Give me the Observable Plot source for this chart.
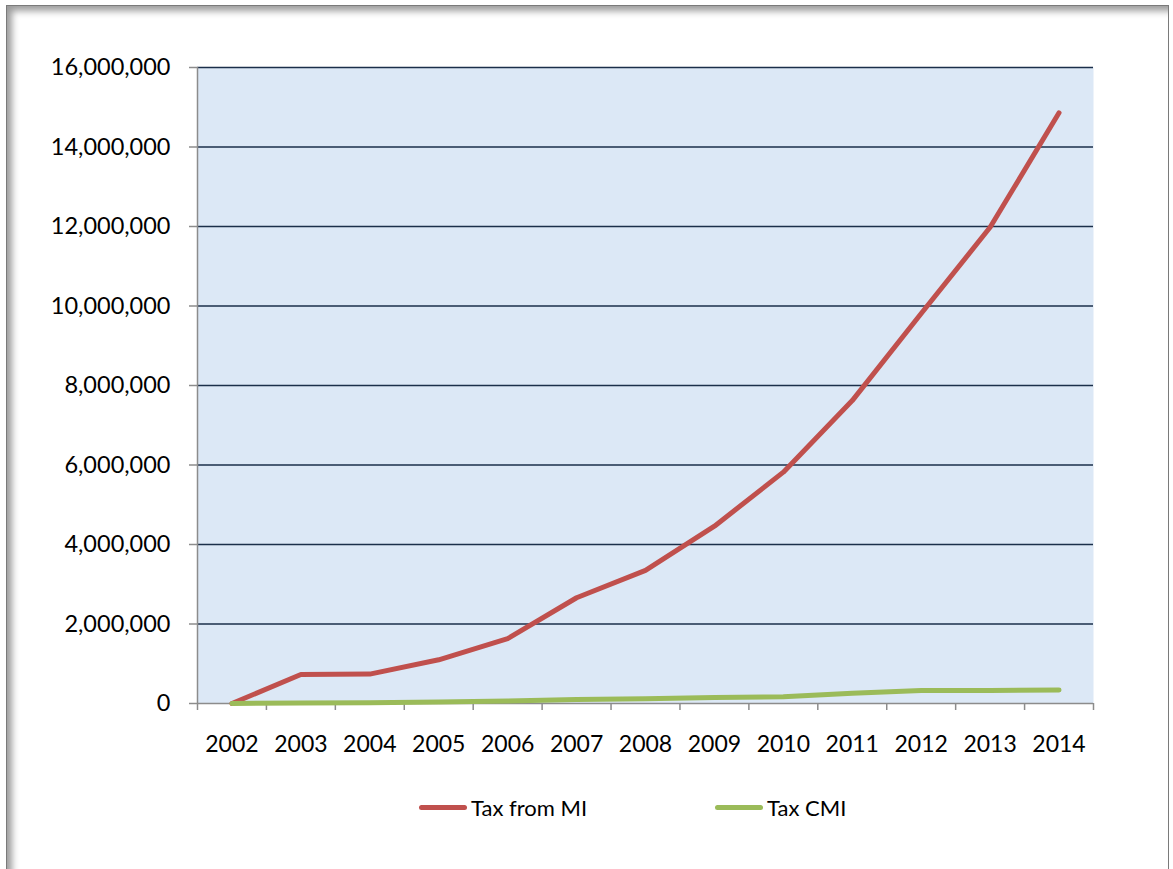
<!DOCTYPE html>
<html><head><meta charset="utf-8">
<script src="https://cdn.jsdelivr.net/npm/d3@7"></script>
<script src="https://cdn.jsdelivr.net/npm/@observablehq/plot@0.6"></script>
<style>
html,body{margin:0;padding:0;background:#fff;width:1173px;height:869px;overflow:hidden;font-family:Lato,"Open Sans",sans-serif;}
#frame{position:absolute;left:6px;top:5px;width:1163px;height:920px;border:1px solid #7a7a7a;box-shadow:inset 8px 8px 7px -3px #9c9c9c;box-sizing:border-box;}
#chart{position:absolute;left:0;top:0;}
.legend{position:absolute;top:792px;height:30px;display:flex;align-items:center;font-size:22px;color:#000;}
.sw{width:48px;height:5px;border-radius:3px;margin-right:4px;}
</style></head>
<body>
<div id="frame"></div>
<div id="chart"></div>
<div class="legend" style="left:419px"><div class="sw" style="background:#c0504d"></div><span>Tax from MI</span></div>
<div class="legend" style="left:715px"><div class="sw" style="background:#9bbb59"></div><span>Tax CMI</span></div>
<script>
const years = [2002,2003,2004,2005,2006,2007,2008,2009,2010,2011,2012,2013,2014];
const taxFromMI = [0,730000,740000,1100000,1630000,2660000,3350000,4460000,5820000,7620000,9810000,11980000,14860000];
const taxCMI = [0,10000,20000,40000,60000,100000,120000,150000,170000,260000,330000,330000,340000];
const yTicks = [0,2000000,4000000,6000000,8000000,10000000,12000000,14000000,16000000];
const seriesNames = ["Tax from MI","Tax CMI"];
const seriesColors = ["#c0504d","#9bbb59"];

const rows = [];
years.forEach((y,i)=>{
  rows.push({year:y, value:taxFromMI[i], series:seriesNames[0]});
  rows.push({year:y, value:taxCMI[i], series:seriesNames[1]});
});
const boundaries = years.map(y=>y-0.5).concat([years[years.length-1]+0.5]);

const chart = Plot.plot({
  width:1173, height:760,
  marginLeft:197, marginRight:80, marginTop:67, marginBottom:57,
  x:{type:"linear", domain:[boundaries[0], boundaries[boundaries.length-1]]},
  y:{domain:[0,16000000]},
  color:{domain:seriesNames, range:seriesColors},
  style:{fontFamily:"Lato, 'Open Sans', sans-serif", fontSize:"23px", color:"#000", background:"transparent", overflow:"visible"},
  marks:[
    Plot.frame({fill:"#dce8f6", stroke:null}),
    Plot.gridY({ticks:yTicks.filter(d=>d>0), stroke:"#1b2f4a", strokeOpacity:1, strokeWidth:1.5}),
    Plot.ruleY([0], {stroke:"#8c8c8c", strokeWidth:1.5}),
    Plot.ruleX([boundaries[0]], {stroke:"#8c8c8c", strokeWidth:1.5}),
    Plot.axisY({ticks:yTicks, tickSize:8, tickPadding:19, tickFormat:d3.format(","), stroke:"#8c8c8c", strokeWidth:1.5, fill:"#000", fontSize:23.5, label:null}),
    Plot.axisX({ticks:boundaries, tickSize:7, tickFormat:()=>"", stroke:"#8c8c8c", strokeWidth:1.5, label:null}),
    Plot.axisX({ticks:years, tickSize:0, tickPadding:32, tickFormat:d=>String(d), fill:"#000", fontSize:23, label:null}),
    Plot.line(rows, {x:"year", y:"value", z:"series", stroke:"series", strokeWidth:5, strokeLinecap:"round", strokeLinejoin:"round"})
  ]
});
document.getElementById("chart").appendChild(chart);
</script>
</body></html>
